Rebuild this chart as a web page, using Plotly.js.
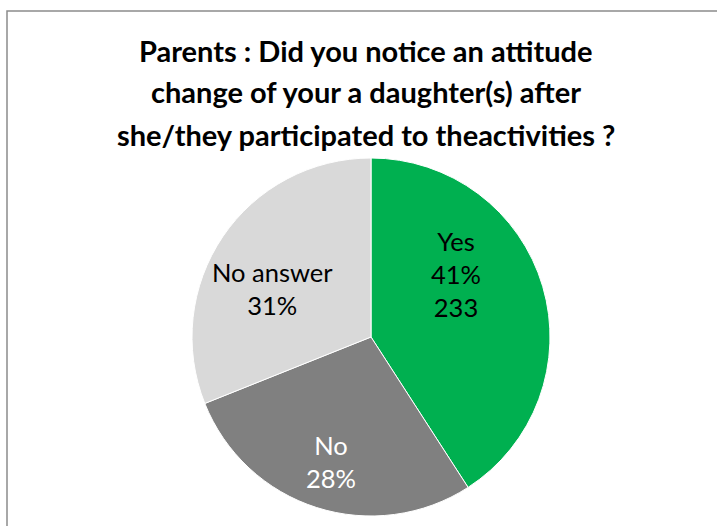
<!DOCTYPE html>
<html>
<head>
<meta charset="utf-8">
<script src="https://cdn.plot.ly/plotly-3.0.1.min.js"></script>
<style>html,body{margin:0;padding:0;background:#fff;}#chart{width:717px;height:526px;}</style>
</head>
<body>
<div id="chart"></div>
<script>
const categories = ["Yes", "No", "No answer"];
const values = [233, 160, 177];
const showValue = [true, false, false];
const colors = ["#00B050", "#808080", "#D9D9D9"];
const textColors = ["#000000", "#FFFFFF", "#000000"];
const titleLines = [
  "Parents : Did you notice an attitude",
  "change of your a daughter(s) after",
  "she/they participated to theactivities ?"
];

const W = 717, H = 526;
const cx = 371, cy = 337, r = 179;
// label placement (style): radius fraction and angular nudge (deg) per slice
const labelRadius = [0.59, 0.73, 0.61];
const labelAngleShift = [-20, 0, -8];

const trace = {
  type: "pie",
  labels: categories,
  values: values,
  sort: false,
  direction: "clockwise",
  rotation: 0,
  marker: {colors: colors, line: {color: "#FFFFFF", width: 1}},
  textinfo: "none",
  hoverinfo: "label+percent+value",
  showlegend: false,
  domain: {x: [(cx - r) / W, (cx + r) / W], y: [1 - (cy + r) / H, 1 - (cy - r) / H]}
};

const total = values.reduce((a, b) => a + b, 0);
let cum = 0;
const labelAnns = values.map((v, i) => {
  const mid = (cum + v / 2) / total * 360 + labelAngleShift[i];
  cum += v;
  const rad = mid * Math.PI / 180;
  const px = cx + labelRadius[i] * r * Math.sin(rad);
  const py = cy - labelRadius[i] * r * Math.cos(rad);
  let txt = categories[i] + "<br>" + Math.round(v / total * 100) + "%";
  if (showValue[i]) txt += "<br>" + v;
  return {
    text: txt, xref: "paper", yref: "paper",
    x: px / W, y: 1 - py / H, xanchor: "center", yanchor: "middle",
    showarrow: false, align: "center",
    font: {family: "Lato, sans-serif", size: 25.5, color: textColors[i]}
  };
});

const titleY = [50, 92, 134];
const titleAnns = titleLines.map((t, i) => ({
  text: "<b>" + t + "</b>",
  xref: "paper", yref: "paper",
  x: 366 / W, y: 1 - titleY[i] / H,
  xanchor: "center", yanchor: "middle",
  showarrow: false,
  font: {family: "Lato, sans-serif", size: 29, color: "#000000"}
}));

const layout = {
  width: W, height: H,
  margin: {l: 0, r: 0, t: 0, b: 0},
  paper_bgcolor: "#FFFFFF",
  showlegend: false,
  annotations: titleAnns.concat(labelAnns),
  shapes: [{
    type: "rect", xref: "paper", yref: "paper",
    x0: 7 / W, x1: 1.02, y0: -0.02, y1: 1 - 11 / H,
    line: {color: "#8C8C8C", width: 1.5}, fillcolor: "rgba(0,0,0,0)", layer: "below"
  }]
};

Plotly.newPlot("chart", [trace], layout, {displayModeBar: false, staticPlot: true});
</script>
</body>
</html>
